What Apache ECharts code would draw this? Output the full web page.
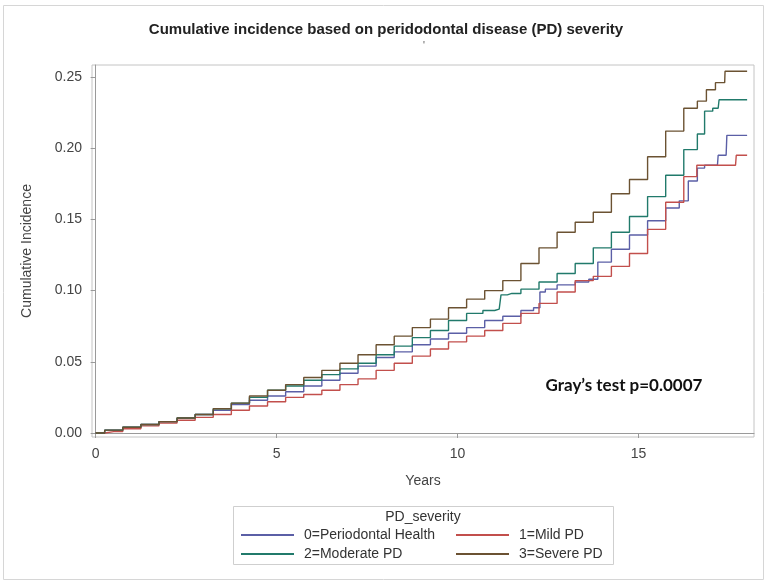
<!DOCTYPE html>
<html>
<head>
<meta charset="utf-8">
<script src="https://cdn.jsdelivr.net/npm/echarts@6/dist/echarts.min.js"></script>
<style>html,body{margin:0;padding:0;background:#fff}#c{width:772px;height:584px}</style>
</head>
<body>
<div id="c"></div>
<script>
// ---- data ----
const xTicks = [0, 5, 10, 15];
const yTicks = [0, 0.05, 0.10, 0.15, 0.20, 0.25];
const seriesNames = ['0=Periodontal Health', '1=Mild PD', '2=Moderate PD', '3=Severe PD'];

const healthT = [0,0.5,1,1.5,2,2.5,3,3.5,4,4.5,5,5.5,6,6.5,7,7.5,8,8.5,9,9.5,10,10.5,11,11.5,12,
  12.2,12.35,12.5,13,13.5,13.75,14,14.5,15,15.5,16,16.25,16.5,16.75,16.9,17.18,17.22,17.42,17.46,18];
const healthV = [0,0.002,0.004,0.006,0.008,0.0105,0.013,0.016,0.020,0.023,0.026,0.029,0.033,0.037,0.042,0.047,0.053,0.057,0.062,0.066,0.070,0.074,0.079,0.082,0.086,
  0.088,0.099,0.101,0.104,0.106,0.108,0.120,0.129,0.139,0.149,0.158,0.163,0.177,0.186,0.188,0.188,0.195,0.195,0.209,0.209];

const mildT = [0,0.5,1,1.5,2,2.5,3,3.5,4,4.5,5,5.5,6,6.5,7,7.5,8,8.5,9,9.5,10,10.5,11,11.5,12,12.5,13,13.5,
  14,14.5,15,15.5,16,16.5,16.72,17.68,17.72,18];
const mildV = [0,0.001,0.003,0.005,0.007,0.009,0.011,0.013,0.016,0.019,0.022,0.025,0.027,0.030,0.034,0.038,0.044,0.049,0.054,0.059,0.064,0.068,0.072,0.077,0.084,0.091,0.099,0.107,
  0.110,0.117,0.126,0.143,0.162,0.180,0.188,0.188,0.195,0.195];

const modT = [0,0.5,1,1.5,2,2.5,3,3.5,4,4.5,5,5.5,6,6.5,7,7.5,8,8.5,9,9.5,10,10.5,
  10.9,11.15,11.25,11.5,12,12.5,13,13.5,14,14.5,15,15.5,16,16.5,16.75,16.9,17.2,17.25,18];
const modV = [0,0.002,0.004,0.006,0.008,0.0105,0.013,0.017,0.021,0.025,0.030,0.033,0.037,0.041,0.045,0.049,0.055,0.061,0.067,0.072,0.079,0.084,
  0.086,0.087,0.097,0.098,0.101,0.106,0.112,0.119,0.130,0.141,0.152,0.166,0.181,0.199,0.210,0.226,0.228,0.234,0.234];

const sevT = [0,0.5,1,1.5,2,2.5,3,3.5,4,4.5,5,5.5,6,6.5,7,7.5,8,8.5,9,9.5,10,10.5,11,11.5,12,12.5,13,13.5,14,14.5,15,15.5,16,16.5,16.75,17,17.25,17.38,17.4,18];
const sevV = [0,0.002,0.004,0.006,0.008,0.0105,0.013,0.017,0.021,0.026,0.030,0.034,0.039,0.044,0.049,0.055,0.062,0.068,0.074,0.080,0.088,0.094,0.100,0.107,0.119,0.130,0.141,0.148,0.155,0.168,0.178,0.194,0.212,0.228,0.233,0.241,0.246,0.246,0.254,0.254];

const colors = ['#5b5fa6', '#c24f4c', '#217a6b', '#6b5232'];

const zip = (t, v) => t.map((x, i) => [x, v[i]]);
const seriesData = [zip(healthT, healthV), zip(mildT, mildV), zip(modT, modV), zip(sevT, sevV)];

const chart = echarts.init(document.getElementById('c'), null, {renderer: 'canvas'});
const FONT = '"Liberation Sans", Arial, sans-serif';

const legendBase = {
  orient: 'vertical', top: 528, itemWidth: 53, itemHeight: 14, itemGap: 5, padding: 0,
  itemStyle: {opacity: 0},
  textStyle: {color: '#333', fontSize: 14, fontFamily: FONT, padding: [0, 0, 0, 5]}
};

const option = {
  backgroundColor: '#ffffff',
  animation: false,
  grid: {left: 92, right: 18, top: 65, bottom: 147, show: true, borderColor: '#c4c4c4', borderWidth: 1},
  xAxis: {
    type: 'value', min: -0.1, max: 18.19,
    splitLine: {show: false},
    axisLine: {show: true, lineStyle: {color: '#9a9a9a'}},
    axisTick: {show: true, length: 5, lineStyle: {color: '#9a9a9a'}, customValues: xTicks},
    axisLabel: {customValues: xTicks, color: '#444', fontSize: 14, fontFamily: FONT, margin: 10}
  },
  yAxis: {
    type: 'value', min: -0.0028, max: 0.2584,
    splitLine: {show: false},
    axisLine: {show: true, lineStyle: {color: '#9a9a9a'}},
    axisTick: {show: true, length: 5, lineStyle: {color: '#9a9a9a'}, customValues: yTicks},
    axisLabel: {customValues: yTicks, color: '#444', fontSize: 14, fontFamily: FONT, margin: 10,
      formatter: v => v.toFixed(2)}
  },
  legend: [
    Object.assign({}, legendBase, {data: [seriesNames[0], seriesNames[2]], left: 240}),
    Object.assign({}, legendBase, {data: [seriesNames[1], seriesNames[3]], left: 455})
  ],
  series: seriesNames.map((n, i) => ({
    name: n, type: 'line', step: 'middle', symbol: 'none', data: seriesData[i],
    lineStyle: {color: colors[i], width: 1.4}, itemStyle: {color: colors[i]}
  })),
  graphic: [
    {type: 'rect', shape: {x: 3.5, y: 5.5, width: 760, height: 574}, style: {fill: 'none', stroke: '#d6d6d6', lineWidth: 1}, silent: true, z: -1},
    {type: 'text', left: 'center', top: 22, style: {text: 'Cumulative incidence based on peridodontal disease (PD) severity', font: 'bold 15px ' + FONT, fill: '#222'}},
    {type: 'text', x: 423, y: 41, style: {text: "'", font: '10px ' + FONT, fill: '#555'}},
    {type: 'text', x: 27, y: 251, rotation: Math.PI / 2, style: {text: 'Cumulative Incidence', font: '14px ' + FONT, fill: '#444', align: 'center', verticalAlign: 'middle'}},
    {type: 'text', x: 423, y: 481, style: {text: 'Years', font: '14px ' + FONT, fill: '#444', align: 'center', verticalAlign: 'middle'}},
    {type: 'text', x: 624, y: 386, style: {text: 'Gray\u2019s test p=0.0007', font: 'bold 17px Lato, "Open Sans", sans-serif', fill: '#111', align: 'center', verticalAlign: 'middle'}},
    {type: 'rect', shape: {x: 233.5, y: 506.5, width: 380, height: 58}, style: {fill: 'none', stroke: '#cfcfcf', lineWidth: 1}, silent: true},
    {type: 'text', x: 423, y: 517, style: {text: 'PD_severity', font: '14px ' + FONT, fill: '#333', align: 'center', verticalAlign: 'middle'}}
  ]
};
chart.setOption(option);
</script>
</body>
</html>
